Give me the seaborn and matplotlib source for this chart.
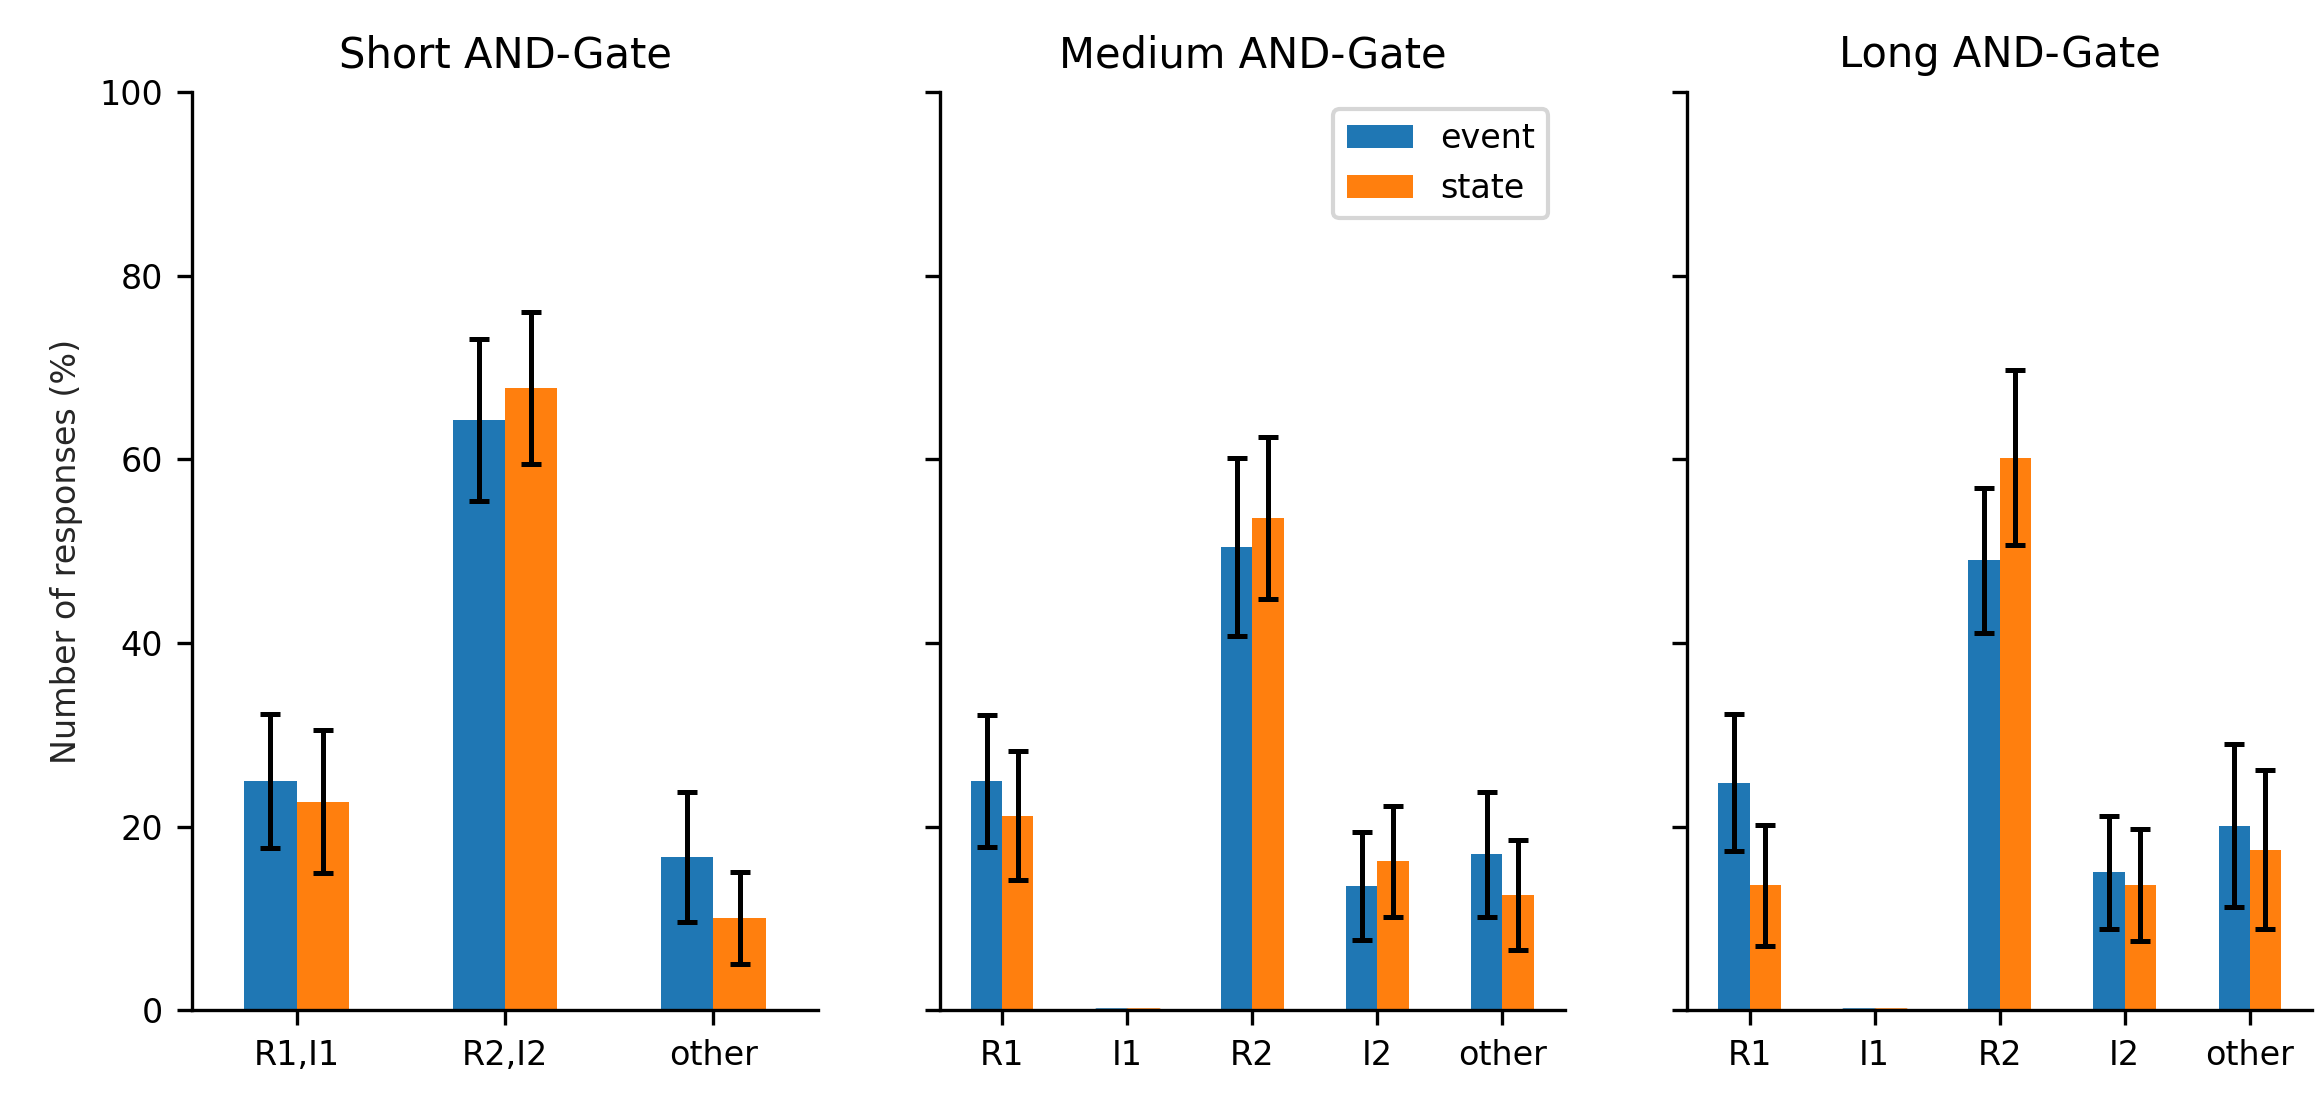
import matplotlib
matplotlib.use("Agg")
import matplotlib.pyplot as plt
import seaborn as sns
import pandas as pd

titles = ["Short AND-Gate", "Medium AND-Gate", "Long AND-Gate"]
cats = [["R1,I1", "R2,I2", "other"],
        ["R1", "I1", "R2", "I2", "other"],
        ["R1", "I1", "R2", "I2", "other"]]
event = [[25.0, 64.3, 16.7],
         [25.0, 0.0, 50.5, 13.5, 17.0],
         [24.8, 0.0, 49.0, 15.0, 20.1]]
state = [[22.7, 67.8, 10.0],
         [21.2, 0.0, 53.6, 16.2, 12.5],
         [13.6, 0.0, 60.2, 13.6, 17.5]]
event_err = [[7.3, 8.8, 7.1],
             [7.2, 0.0, 9.7, 5.9, 6.8],
             [7.5, 0.0, 7.9, 6.2, 8.9]]
state_err = [[7.8, 8.3, 5.0],
             [7.0, 0.0, 8.8, 6.0, 6.0],
             [6.6, 0.0, 9.5, 6.1, 8.7]]

sns.set_style("ticks")
plt.rcParams['font.family'] = ['DejaVu Sans']
plt.rcParams['text.color'] = 'black'
plt.rcParams['xtick.color'] = 'black'
plt.rcParams['ytick.color'] = 'black'
plt.rcParams['axes.edgecolor'] = 'black'
fig, axes = plt.subplots(1, 3, sharey=True, figsize=(2317/300, 1098/300), dpi=300)
fig.subplots_adjust(left=0.083, right=0.998, top=0.916, bottom=0.08, wspace=0.195)
colors = ["#1f77b4", "#ff7f0e"]
for i, ax in enumerate(axes):
    n = len(cats[i])
    df = pd.DataFrame({"cat": cats[i]*2,
                       "val": event[i] + state[i],
                       "kind": ["event"]*n + ["state"]*n})
    sns.barplot(data=df, x="cat", y="val", hue="kind", palette=colors,
                width=0.5, errorbar=None, ax=ax, legend=(i == 1), saturation=1,
                linewidth=0)
    errs = event_err[i] + state_err[i]
    vals = event[i] + state[i]
    patches = ax.patches[:2*n]
    for p, v, e in zip(patches, vals, errs):
        if v > 0:
            ax.errorbar(p.get_x() + p.get_width()/2, v, yerr=e, color="black",
                        capsize=2.5, lw=1.2, capthick=1.2)
        else:
            ax.plot([p.get_x(), p.get_x()+p.get_width()], [0.1, 0.1],
                    color=p.get_facecolor(), lw=0.6)
    ax.set_title(titles[i], fontsize=10)
    ax.set_xlabel("")
    ax.set_ylabel("")
    ax.set_ylim(0, 100)
    ax.set_xlim(-0.5, n-0.5)
    sns.despine(ax=ax)
    ax.tick_params(labelsize=8)
axes[0].set_ylabel("Number of responses (%)", fontsize=8)
axes[1].legend(loc="upper right", fontsize=8, title=None)
plt.savefig("out.png", dpi=300)
